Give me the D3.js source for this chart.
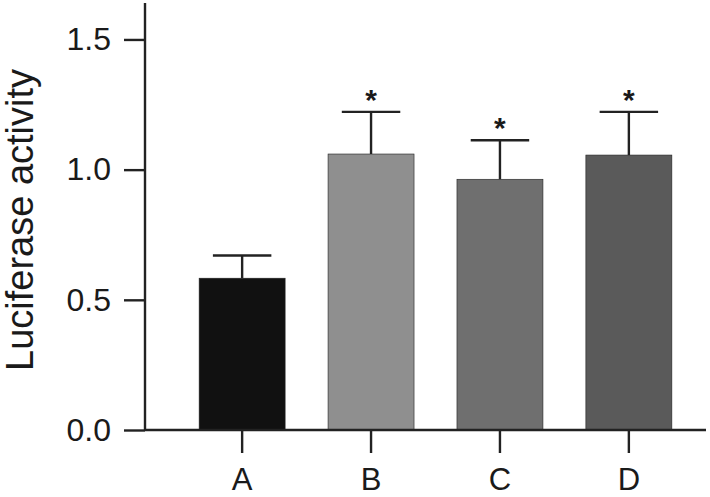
<!DOCTYPE html>
<html><head><meta charset="utf-8">
<script src="https://cdn.jsdelivr.net/npm/d3@7"></script>
<style>body{margin:0;background:#fff}svg{display:block}text{font-family:"Liberation Sans",Arial,sans-serif;fill:#1a1a1a}</style>
</head><body><svg id="c" width="710" height="497"></svg>
<script>
const categories = ["A","B","C","D"];
const values = [0.583, 1.060, 0.963, 1.056];
const errors = [0.087, 0.162, 0.150, 0.166];
const significant = [false, true, true, true];
const colors = ["#111111","#8f8f8f","#6f6f6f","#5a5a5a"];
const yTicks = [0, 0.5, 1.0, 1.5];
const yLabel = "Luciferase activity";

const svg = d3.select("#c");
const y = d3.scaleLinear().domain([0, 1.64]).range([430, 3]);
const x = d3.scaleBand().domain(categories).range([145, 726]).paddingInner(0.333).paddingOuter(0.42);

const g = svg.append("g");
// bars
g.selectAll("rect.bar").data(categories).join("rect")
  .attr("x", d => x(d)).attr("width", x.bandwidth())
  .attr("y", (d,i) => y(values[i])).attr("height", (d,i) => y(0) - y(values[i]))
  .attr("fill", (d,i) => colors[i]).attr("stroke", "#222").attr("stroke-width", 0.6);
// error bars
const cap = x.bandwidth() * 0.68;
categories.forEach((d,i) => {
  const cx = x(d) + x.bandwidth()/2;
  g.append("line").attr("x1", cx).attr("x2", cx).attr("y1", y(values[i])).attr("y2", y(values[i]+errors[i]))
    .attr("stroke", "#222").attr("stroke-width", 2.4);
  g.append("line").attr("x1", cx - cap/2).attr("x2", cx + cap/2).attr("y1", y(values[i]+errors[i])).attr("y2", y(values[i]+errors[i]))
    .attr("stroke", "#222").attr("stroke-width", 2.4);
  if (significant[i]) {
    g.append("text").attr("x", cx).attr("y", y(values[i]+errors[i]) - 2).attr("text-anchor","middle")
      .attr("font-size", 30).attr("font-weight", "bold").text("*");
  }
});
// y axis
const ya = svg.append("g").attr("transform", "translate(145,0)")
  .call(d3.axisLeft(y).tickValues(yTicks).tickFormat(d3.format(".1f")).tickSize(21).tickPadding(13));
ya.select(".domain").attr("stroke", "#222").attr("stroke-width", 2.4).attr("d", `M0,${y(0)}V${y(1.64)}`);
ya.selectAll(".tick line").attr("stroke", "#222").attr("stroke-width", 2.4);
ya.selectAll(".tick text").attr("font-size", 32).attr("font-family", "Liberation Sans, Arial, sans-serif").attr("fill", "#1a1a1a");
// x axis
const xa = svg.append("g").attr("transform", "translate(0,430)")
  .call(d3.axisBottom(x).tickSize(23).tickPadding(15));
xa.select(".domain").attr("stroke", "#222").attr("stroke-width", 2.4).attr("d", "M145,0H706");
xa.selectAll(".tick line").attr("stroke", "#222").attr("stroke-width", 2.4);
xa.selectAll(".tick text").attr("font-size", 31).attr("font-family", "Liberation Sans, Arial, sans-serif").attr("fill", "#1a1a1a");
// y label
svg.append("text").attr("transform", "translate(33,220) rotate(-90)").attr("text-anchor", "middle")
  .attr("font-size", 38).text(yLabel);
</script></body></html>
